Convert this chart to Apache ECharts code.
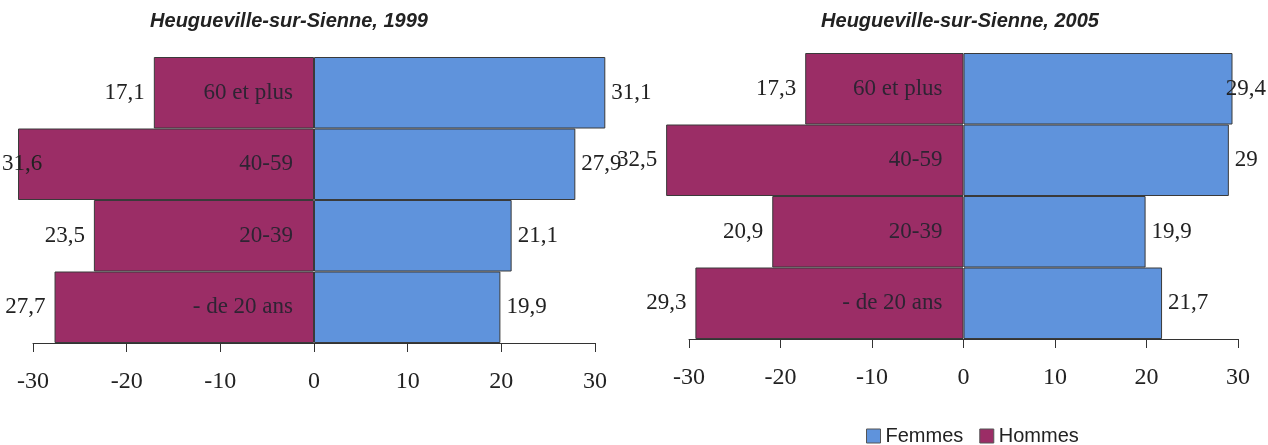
<!DOCTYPE html>
<html>
<head>
<meta charset="utf-8">
<title>Heugueville-sur-Sienne, 1999 / 2005</title>
<script src="https://cdn.jsdelivr.net/npm/echarts@6/dist/echarts.min.js"></script>
<style>
  html, body { margin: 0; padding: 0; background: #ffffff; }
  #chart { width: 1268px; height: 445px; }
</style>
</head>
<body>
<div id="chart"></div>
<script>
// Age groups, listed bottom to top
const categories = ['- de 20 ans', '20-39', '40-59', '60 et plus'];

// Share of each age group (%)
const femmes1999 = [19.9, 21.1, 27.9, 31.1];
const hommes1999 = [27.7, 23.5, 31.6, 17.1];
const femmes2005 = [21.7, 19.9, 29, 29.4];
const hommes2005 = [29.3, 20.9, 32.5, 17.3];

const years = ['1999', '2005'];
const townName = 'Heugueville-sur-Sienne';

const COLOR_F = '#5f93dc';
const COLOR_H = '#9b2d66';
const SERIF = '"Liberation Serif", "Times New Roman", serif';
const SANS = '"Liberation Sans", Arial, sans-serif';
const CANVAS_W = 1268;

const fmt = v => String(Math.abs(v)).replace('.', ',');

// Plot areas of the two pyramids
const grids = [
  { left: 33, top: 57, width: 562, height: 286, outerBoundsMode: 'none', containLabel: false },
  { left: 689, top: 53, width: 549, height: 286, outerBoundsMode: 'none', containLabel: false }
];

function xAxisFor(i) {
  return {
    type: 'value', gridIndex: i, min: -30, max: 30, interval: 10,
    axisLine: { show: true, onZero: false, lineStyle: { color: '#333', width: 1 } },
    axisTick: { show: true, length: 9, lineStyle: { color: '#333', width: 1 } },
    splitLine: { show: false },
    axisLabel: { margin: 27, fontFamily: SERIF, fontSize: 24, color: '#222' }
  };
}

// Category names sit just left of the zero line, over the men's bars
function yAxisFor(i) {
  const g = grids[i];
  return {
    type: 'category', gridIndex: i, data: categories, z: 10,
    position: 'left',
    offset: -g.width / 2,
    axisLine: { show: false },
    axisTick: { show: false },
    axisLabel: { margin: 21, fontFamily: SERIF, fontSize: 23, color: '#2e2433' }
  };
}

// Keep a value label inside the canvas when its bar runs close to the edge
function keepInside(p) {
  const r = p.labelRect;
  const cy = r.y + r.height / 2;
  if (r.x < 2) {
    return { x: 2, y: cy, align: 'left', verticalAlign: 'middle' };
  }
  if (r.x + r.width > CANVAS_W - 2) {
    return { x: CANVAS_W - 2, y: cy, align: 'right', verticalAlign: 'middle' };
  }
  return {};
}

function femmesSeries(i, values) {
  return {
    name: 'Femmes', type: 'bar', xAxisIndex: i, yAxisIndex: i,
    stack: 'pyr' + i, barCategoryGap: '0%', clip: false,
    data: values,
    itemStyle: { color: COLOR_F, borderColor: '#3a3a3a', borderWidth: 1 },
    label: {
      show: true, position: 'right', distance: 6,
      fontFamily: SERIF, fontSize: 23, color: '#222',
      formatter: p => fmt(p.value)
    },
    labelLayout: keepInside
  };
}

function hommesSeries(i, values) {
  return {
    name: 'Hommes', type: 'bar', xAxisIndex: i, yAxisIndex: i,
    stack: 'pyr' + i, barCategoryGap: '0%', clip: false,
    data: values.map(v => -v),
    itemStyle: { color: COLOR_H, borderColor: '#3a3a3a', borderWidth: 1 },
    label: {
      show: true, position: 'left', distance: 9,
      fontFamily: SERIF, fontSize: 23, color: '#222',
      formatter: p => fmt(p.value)
    },
    labelLayout: keepInside
  };
}

const option = {
  backgroundColor: '#ffffff',
  animation: false,
  title: years.map((y, i) => ({
    text: townName + ', ' + y,
    left: i === 0 ? 284 : 955,
    top: 6,
    textAlign: 'center',
    textStyle: { fontFamily: SANS, fontSize: 20, fontWeight: 'bold', fontStyle: 'italic', color: '#222' }
  })),
  legend: {
    data: ['Femmes', 'Hommes'],
    left: 861, top: 421,
    itemWidth: 14, itemHeight: 14, itemGap: 16,
    icon: 'rect',
    itemStyle: { borderColor: '#555', borderWidth: 1 },
    textStyle: { fontFamily: SANS, fontSize: 20, color: '#222' }
  },
  grid: grids,
  xAxis: [xAxisFor(0), xAxisFor(1)],
  yAxis: [yAxisFor(0), yAxisFor(1)],
  series: [
    femmesSeries(0, femmes1999),
    hommesSeries(0, hommes1999),
    femmesSeries(1, femmes2005),
    hommesSeries(1, hommes2005)
  ]
};

const chart = echarts.init(document.getElementById('chart'), null, { renderer: 'canvas' });
chart.setOption(option);
</script>
</body>
</html>
